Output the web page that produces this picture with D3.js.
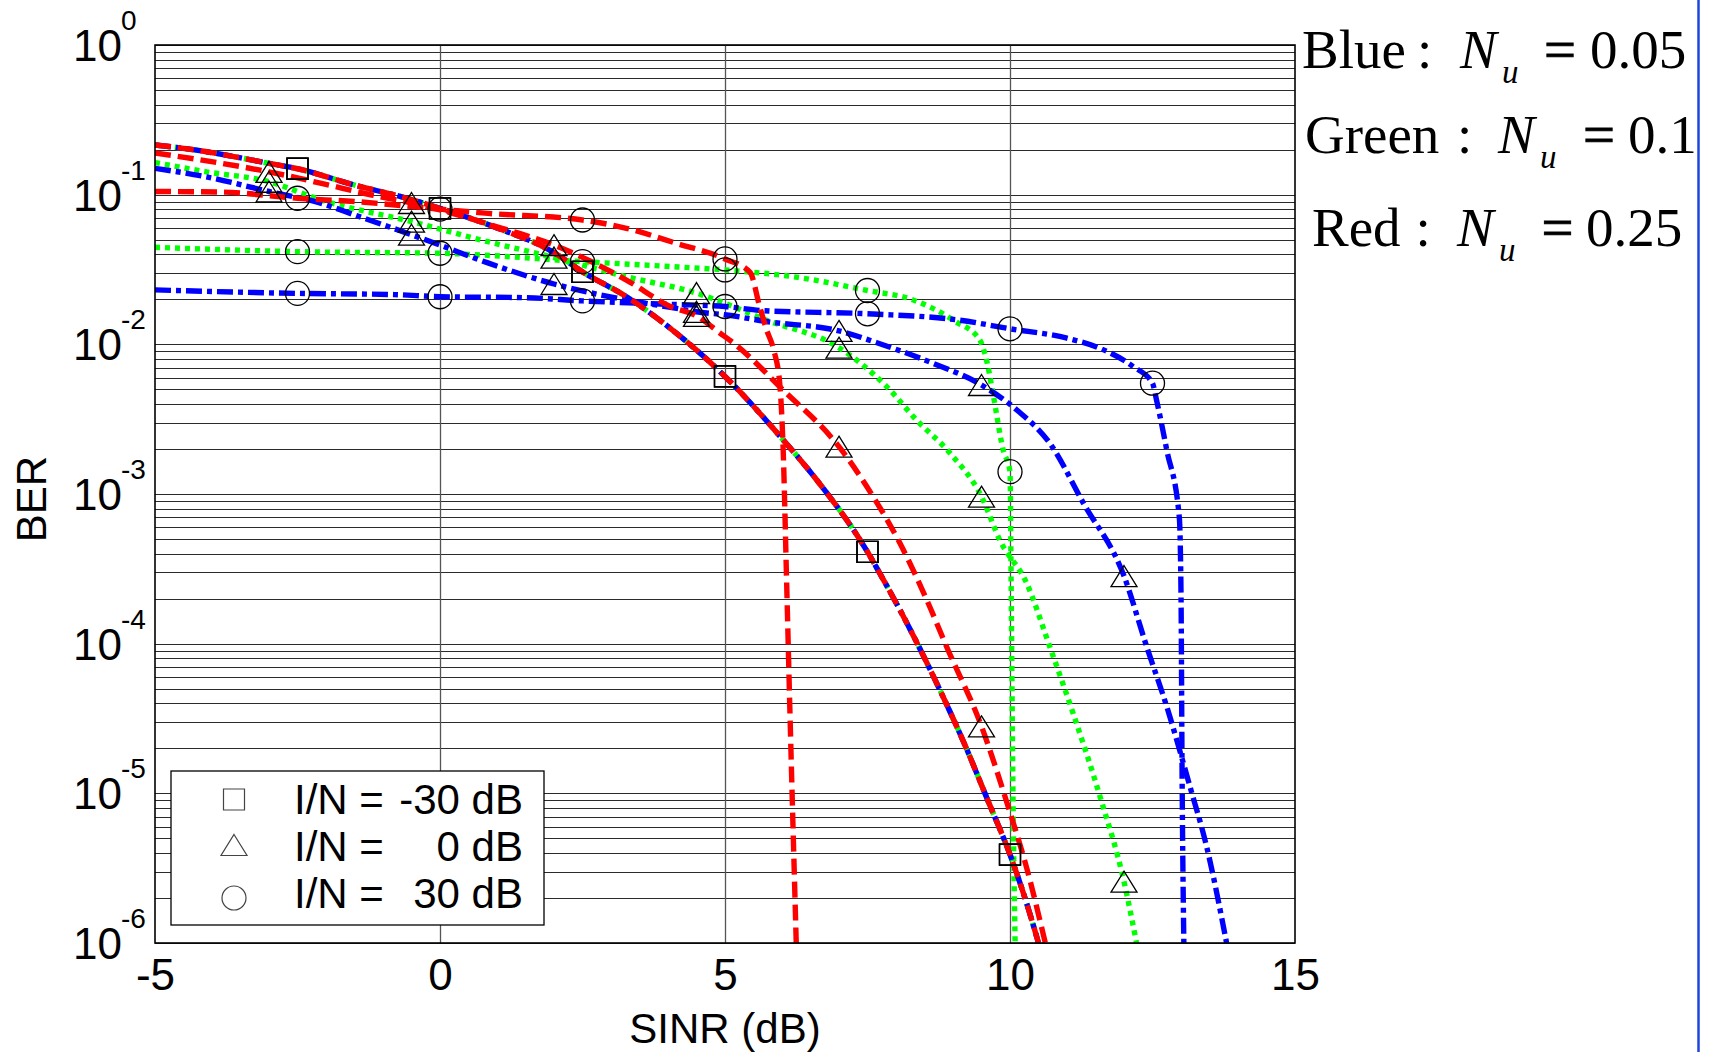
<!DOCTYPE html>
<html>
<head>
<meta charset="utf-8">
<script src="https://cdn.jsdelivr.net/npm/d3@7"></script>
<style>
  body { margin: 0; background: #fff; }
  svg { display: block; }
  text { font-family: Arial, "Liberation Sans", Helvetica, sans-serif; fill: #000; }
  .serif { font-family: "Times New Roman", "Liberation Serif", serif; }
</style>
</head>
<body>
<div id="chart"></div>
<script>
// ---- data: [SINR (dB), BER] ----
var xTicks = [-5, 0, 5, 10, 15];
var xGrid = [0, 5, 10];
var yExponents = [-6, -5, -4, -3, -2, -1, 0];

var squareMarkX = [-2.5, 0, 2.5, 5, 7.5, 10];
var triangleMarkX = [-3, -0.5, 2, 4.5, 7, 9.5, 12];
var circleMarkX = [-2.5, 0, 2.5, 5, 7.5, 10, 12.5];

// I/N = -30 dB (the three Nu curves lie on top of each other)
var squareCurve = [[-5, 0.215], [-4.3, 0.199], [-3, 0.162], [-2.5, 0.149], [-1.5, 0.116], [-0.6, 0.095],
  [0, 0.081], [1, 0.06], [2, 0.041], [2.5, 0.0305], [3.27, 0.0208], [4.04, 0.0128], [5, 0.0061],
  [6.02, 0.0023], [6.61, 0.00124], [7.5, 0.00041], [7.78, 0.000267], [8.3, 0.000114], [8.77, 4.9e-5],
  [9.21, 2.1e-5], [9.62, 8.8e-6], [10, 3.9e-6], [10.3, 1.8e-6], [10.5, 1e-6]];

// I/N = 0 dB
var redTriangle = [[-5, 0.19], [-3.83, 0.162], [-3, 0.142], [-2.08, 0.119], [-1.2, 0.0995], [-0.5, 0.088],
  [0, 0.079], [1, 0.061], [2, 0.046], [3.27, 0.0269], [4.04, 0.0179], [4.5, 0.0155], [4.91, 0.0119],
  [5.15, 0.0102], [6.02, 0.00495], [7, 0.00207], [7.6, 0.00096], [8.07, 0.000468], [8.54, 0.000196],
  [8.89, 9.5e-5], [9.5, 2.8e-5], [9.97, 8.1e-6], [10.29, 3.2e-6], [10.62, 1e-6]];
var greenTriangle = [[-5, 0.164], [-4.12, 0.1425], [-3, 0.122], [-2.08, 0.092], [-0.5, 0.066], [0.84, 0.0485],
  [2, 0.038], [3.27, 0.0283], [4.5, 0.022], [5.73, 0.0145], [7, 0.0095], [7.84, 0.0052], [8.36, 0.00312],
  [8.95, 0.00187], [9.5, 0.00096], [9.82, 0.000493], [10.3, 0.00025], [10.7, 9.5e-5], [11.11, 3.4e-5],
  [11.58, 9.5e-6], [12, 2.57e-6], [12.22, 1e-6]];
var blueTriangle = [[-5, 0.15], [-4.12, 0.132], [-3, 0.105], [-2.08, 0.0875], [-1.49, 0.073], [-0.5, 0.054],
  [0, 0.046], [0.84, 0.035], [2, 0.0253], [3.27, 0.0198], [4.15, 0.0174], [4.5, 0.0165], [5.03, 0.0157],
  [5.73, 0.0142], [7, 0.0123], [7.78, 0.0099], [8.65, 0.00747], [9.5, 0.00535], [10.12, 0.00364],
  [10.7, 0.00218], [11.29, 0.000866], [12, 0.000283], [12.4, 9.5e-5], [12.75, 3.8e-5], [13.16, 1.1e-5],
  [13.45, 4.4e-6], [13.8, 1e-6]];

// I/N = 30 dB
var redCircle = [[-5, 0.105], [-3.83, 0.104], [-2.5, 0.0946], [-1.5, 0.09], [0, 0.08], [0.84, 0.075],
  [2.5, 0.0677], [3.27, 0.0596], [4.15, 0.0473], [5, 0.0372], [5.44, 0.0303], [5.61, 0.0178],
  [5.73, 0.0125], [5.85, 0.0093], [5.96, 0.0055], [6.02, 0.002], [6.08, 0.00027], [6.14, 3.4e-5], [6.25, 1e-6]];
var greenCircle = [[-5, 0.0445], [-2.5, 0.0416], [0, 0.0406], [2.5, 0.0357], [3.86, 0.0334], [5, 0.0314],
  [6.2, 0.0283], [7.5, 0.0229], [8.3, 0.0198], [9.03, 0.0143], [9.47, 0.0107], [9.6, 0.0075],
  [9.71, 0.0045], [9.88, 0.00197], [10, 0.00141], [10.02, 0.00025], [10.05, 1.2e-5], [10.09, 1e-6]];
var blueCircle = [[-5, 0.0231], [-2.5, 0.0219], [-0.8, 0.0215], [0, 0.0208], [1.5, 0.0205], [2.5, 0.0195],
  [3.86, 0.0186], [5, 0.0179], [5.67, 0.0168], [7.5, 0.016], [9.12, 0.0145], [10, 0.0127], [11, 0.011],
  [11.58, 0.0094], [12.16, 0.0071], [12.5, 0.0055], [12.57, 0.00425], [12.75, 0.00197], [12.97, 0.0007],
  [13, 0.00022], [13.02, 1.2e-5], [13.05, 1e-6]];

var legendValues = ["-30 dB", "0 dB", "30 dB"];
var nuNames = ["Blue", "Green", "Red"];
var nuValues = ["0.05", "0.1", "0.25"];

// drawing order: green under blue under red
var series = [
  {data: squareCurve,   color: "#00ff00", style: "dot",  marker: "square",   markX: squareMarkX},
  {data: greenTriangle, color: "#00ff00", style: "dot",  marker: "triangle", markX: triangleMarkX},
  {data: greenCircle,   color: "#00ff00", style: "dot",  marker: "circle",   markX: circleMarkX},
  {data: squareCurve,   color: "#0000ff", style: "dashdot", marker: "square",   markX: squareMarkX},
  {data: blueTriangle,  color: "#0000ff", style: "dashdot", marker: "triangle", markX: triangleMarkX},
  {data: blueCircle,    color: "#0000ff", style: "dashdot", marker: "circle",   markX: circleMarkX},
  {data: squareCurve,   color: "#ff0000", style: "dash", marker: "square",   markX: squareMarkX},
  {data: redTriangle,   color: "#ff0000", style: "dash", marker: "triangle", markX: triangleMarkX},
  {data: redCircle,     color: "#ff0000", style: "dash", marker: "circle",   markX: circleMarkX}
];
var dashes = {dash: "16,7", dot: "5,5", dashdot: "16,5,5,5"};

var margin = {top: 45, left: 155},
    width = 1140,
    height = 898;

var svg = d3.select("#chart")
  .append("svg")
    .attr("width", 1710)
    .attr("height", 1052)
    .style("background", "#fff");

var g = svg.append("g")
    .attr("transform", "translate(" + margin.left + "," + margin.top + ")");

var x = d3.scaleLinear().domain([-5, 15]).range([0, width]);
var y = d3.scaleLog().domain([1e-6, 1]).range([height, 0]);

// horizontal log grid (1..9 per decade)
var gridVals = [];
yExponents.slice(0, -1).forEach(function(e) {
  for (var k = 1; k < 10; k++) gridVals.push(k * Math.pow(10, e));
});
gridVals.push(1);

g.append("g")
  .call(d3.axisLeft(y).tickValues(gridVals).tickSize(-width).tickFormat(""))
  .call(function(a) { a.select(".domain").remove(); })
  .selectAll("line")
    .attr("stroke", "#2b2b2b")
    .attr("stroke-width", 1)
    .attr("shape-rendering", "crispEdges");

// vertical grid
g.append("g")
  .attr("transform", "translate(0," + height + ")")
  .call(d3.axisBottom(x).tickValues(xGrid).tickSize(height).tickFormat(""))
  .call(function(a) { a.select(".domain").remove(); })
  .selectAll("line")
    .attr("y2", -height)
    .attr("stroke", "#555")
    .attr("stroke-width", 1.3);

// x tick labels
g.append("g")
  .attr("transform", "translate(0," + height + ")")
  .call(d3.axisBottom(x).tickValues(xTicks).tickSize(0).tickPadding(16).tickFormat(function(d) { return String(d); }))
  .call(function(a) { a.select(".domain").remove(); })
  .selectAll("text")
    .attr("font-size", "44px")
    .attr("font-family", "Arial, 'Liberation Sans', sans-serif")
    .attr("fill", "#000");

// y tick labels 10^e
var ylab = g.append("g").selectAll("g")
  .data(yExponents)
  .enter().append("g")
    .attr("transform", function(d) { return "translate(0," + y(Math.pow(10, d)) + ")"; });
ylab.append("text")
    .attr("x", -82)
    .attr("y", 16)
    .attr("font-size", "44px")
    .text("10");
ylab.append("text")
    .attr("x", -34)
    .attr("y", -15)
    .attr("font-size", "28px")
    .text(function(d) { return d; });

// curves
g.append("clipPath").attr("id", "plotclip")
  .append("rect").attr("width", width).attr("height", height);

var line = d3.line()
  .x(function(d) { return x(d[0]); })
  .y(function(d) { return y(d[1]); })
  .curve(d3.curveMonotoneX);

var curves = g.append("g").attr("clip-path", "url(#plotclip)");
curves.selectAll("path")
  .data(series)
  .enter().append("path")
    .attr("d", function(d) { return line(d.data); })
    .attr("fill", "none")
    .attr("stroke", function(d) { return d.color; })
    .attr("stroke-width", 5.4)
    .attr("stroke-dasharray", function(d) { return dashes[d.style]; });

// markers
function markerPath(type) {
  if (type === "square") return "M-10.5,-10.5H10.5V10.5H-10.5Z";
  if (type === "triangle") return "M0,-10.5L13,10.5H-13Z";
  var r = 12;
  return "M" + r + ",0A" + r + "," + r + " 0 1,1 " + (-r) + ",0A" + r + "," + r + " 0 1,1 " + r + ",0Z";
}

series.forEach(function(s) {
  var pts = s.data.filter(function(p) { return s.markX.indexOf(p[0]) >= 0; });
  g.append("g").selectAll("path")
    .data(pts)
    .enter().append("path")
      .attr("transform", function(p) { return "translate(" + x(p[0]) + "," + y(p[1]) + ")"; })
      .attr("d", markerPath(s.marker))
      .attr("fill", "none")
      .attr("stroke", "#000")
      .attr("stroke-width", 1.3);
});

// frame
g.append("rect")
  .attr("width", width)
  .attr("height", height)
  .attr("fill", "none")
  .attr("stroke", "#000")
  .attr("stroke-width", 1.6);

// axis titles
g.append("text")
  .attr("x", width / 2)
  .attr("y", 1043 - margin.top)
  .attr("text-anchor", "middle")
  .attr("font-size", "42px")
  .text("SINR (dB)");

g.append("text")
  .attr("transform", "rotate(-90)")
  .attr("x", -(499 - margin.top))
  .attr("y", 46 - margin.left)
  .attr("text-anchor", "middle")
  .attr("font-size", "42px")
  .text("BER");

// legend
var legend = svg.append("g");
legend.append("rect")
  .attr("x", 171).attr("y", 771)
  .attr("width", 373).attr("height", 154)
  .attr("fill", "#fff")
  .attr("stroke", "#000")
  .attr("stroke-width", 1.3);

var legendMarkers = ["square", "triangle", "circle"];
var legendMarkY = [799.5, 845, 898];
var legendTextY = [814, 861, 908];
legendMarkers.forEach(function(m, i) {
  legend.append("path")
    .attr("transform", "translate(234," + legendMarkY[i] + ")")
    .attr("d", markerPath(m))
    .attr("fill", "none")
    .attr("stroke", "#444")
    .attr("stroke-width", 1.2);
  legend.append("text")
    .attr("x", 294).attr("y", legendTextY[i])
    .attr("font-size", "42px")
    .text("I/N =");
  legend.append("text")
    .attr("x", 523).attr("y", legendTextY[i])
    .attr("text-anchor", "end")
    .attr("font-size", "42px")
    .text(legendValues[i]);
});

// Nu annotations (top right)
var nuBase = [68, 152.7, 246];
var nuNameX = [1302, 1305, 1312];
var nuColonX = [1417, 1457, 1415.5];
var nuNX = [1460, 1498, 1457];
var nuEqX = [1544, 1583, 1541.5];
var nuValX = [1590, 1628, 1586];
var ann = svg.append("g");
nuNames.forEach(function(n, i) {
  ann.append("text").attr("class", "serif").attr("x", nuNameX[i]).attr("y", nuBase[i])
    .attr("font-size", "55px").text(n);
  ann.append("text").attr("class", "serif").attr("x", nuColonX[i]).attr("y", nuBase[i])
    .attr("font-size", "55px").text(":");
  ann.append("text").attr("class", "serif").attr("x", nuNX[i]).attr("y", nuBase[i])
    .attr("font-size", "55px").attr("font-style", "italic").text("N");
  ann.append("text").attr("class", "serif").attr("x", nuNX[i] + 42).attr("y", nuBase[i] + 15)
    .attr("font-size", "33px").attr("font-style", "italic").text("u");
  ann.append("text").attr("class", "serif").attr("x", nuEqX[i]).attr("y", nuBase[i])
    .attr("font-size", "55px")
    .attr("textLength", 32).attr("lengthAdjust", "spacingAndGlyphs")
    .attr("stroke", "#000").attr("stroke-width", 0.8)
    .text("=");
  ann.append("text").attr("class", "serif").attr("x", nuValX[i]).attr("y", nuBase[i])
    .attr("font-size", "55px").text(nuValues[i]);
});

// thin blue line at the right edge of the original figure
svg.append("line")
  .attr("x1", 1698.5).attr("x2", 1698.5)
  .attr("y1", 0).attr("y2", 1052)
  .attr("stroke", "#1e44e0")
  .attr("stroke-width", 2.5);
</script>
</body>
</html>
